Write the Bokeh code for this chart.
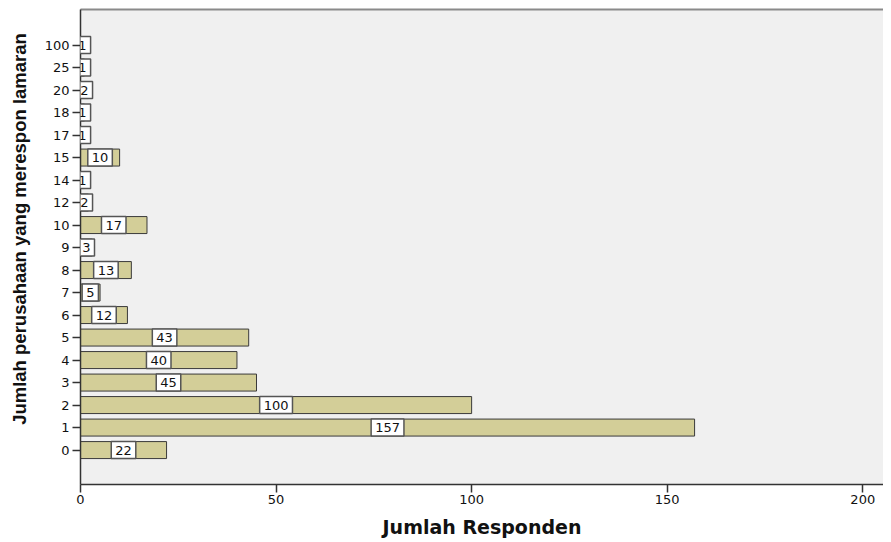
from bokeh.plotting import figure
from bokeh.models import ColumnDataSource, FixedTicker, Range1d, Label, LinearAxis
from bokeh.embed import file_html
from bokeh.resources import INLINE

categories = ["0", "1", "2", "3", "4", "5", "6", "7", "8", "9", "10",
              "12", "14", "15", "17", "18", "20", "25", "100"]
counts = [22, 157, 100, 45, 40, 43, 12, 5, 13, 3, 17, 2, 1, 10, 1, 1, 2, 1, 1]
x_ticks = [0, 50, 100, 150, 200]

pos = list(range(len(categories)))
source = ColumnDataSource(dict(pos=pos, count=counts))

p = figure(width=883, height=542,
           x_range=Range1d(0, 205.3), y_range=Range1d(-1.53, 19.58),
           output_backend="svg", toolbar_location=None,
           min_border_left=80, min_border_right=0,
           min_border_top=9, min_border_bottom=58)

p.background_fill_color = "#F0F0F0"
p.border_fill_color = "white"
p.outline_line_color = None
p.grid.visible = False

xa = p.below[0]
ya = p.left[0]

# top frame line
top = LinearAxis(ticker=FixedTicker(ticks=[]), axis_line_color="#8A8A8A",
                 axis_line_width=2, major_tick_line_color=None,
                 minor_tick_line_color=None, major_label_text_font_size="0px",
                 major_label_standoff=0)
p.add_layout(top, "above")

p.hbar(y="pos", left=0, right="count", height=0.755, source=source,
       fill_color="#D3CE98", line_color="#3A3A3A", line_width=1)

for c, y in zip(counts, pos):
    p.add_layout(Label(x=c / 2, y=y, text=str(c),
                       text_align="center", text_baseline="middle",
                       text_font="DejaVu Sans", text_font_size="13px",
                       text_color="#111111",
                       background_fill_color="white",
                       border_line_color="#555555", border_line_width=1.5,
                       padding=4))

# x axis
xa.ticker = FixedTicker(ticks=x_ticks)
xa.axis_label = "Jumlah Responden"
xa.axis_label_text_font = "DejaVu Sans"
xa.axis_label_text_font_style = "bold"
xa.axis_label_text_font_size = "19px"
xa.axis_label_text_color = "#111111"
xa.axis_label_standoff = 9
xa.major_label_text_font = "DejaVu Sans"
xa.major_label_text_font_size = "13px"
xa.major_label_text_color = "#111111"
xa.major_label_standoff = 2
xa.major_tick_out = 8
xa.major_tick_in = 0
xa.minor_tick_line_color = None
xa.axis_line_color = "#333333"
xa.axis_line_width = 1.5
xa.major_tick_line_color = "#333333"
xa.major_tick_line_width = 1.5

# y axis
ya.ticker = FixedTicker(ticks=pos)
ya.major_label_overrides = {i: c for i, c in zip(pos, categories)}
ya.axis_label = "\u00a0" * 7 + "Jumlah perusahaan yang merespon lamaran"
ya.axis_label_text_font = "Liberation Sans"
ya.axis_label_text_font_style = "bold"
ya.axis_label_text_font_size = "18.5px"
ya.axis_label_text_color = "#111111"
ya.axis_label_standoff = 12
ya.major_label_text_font = "DejaVu Sans"
ya.major_label_text_font_size = "13px"
ya.major_label_text_color = "#111111"
ya.major_label_standoff = 3
ya.major_tick_out = 8
ya.major_tick_in = 0
ya.minor_tick_line_color = None
ya.axis_line_color = "#333333"
ya.axis_line_width = 1.5
ya.major_tick_line_color = "#333333"
ya.major_tick_line_width = 1.5

open("out.html", "w").write(file_html(p, INLINE))
